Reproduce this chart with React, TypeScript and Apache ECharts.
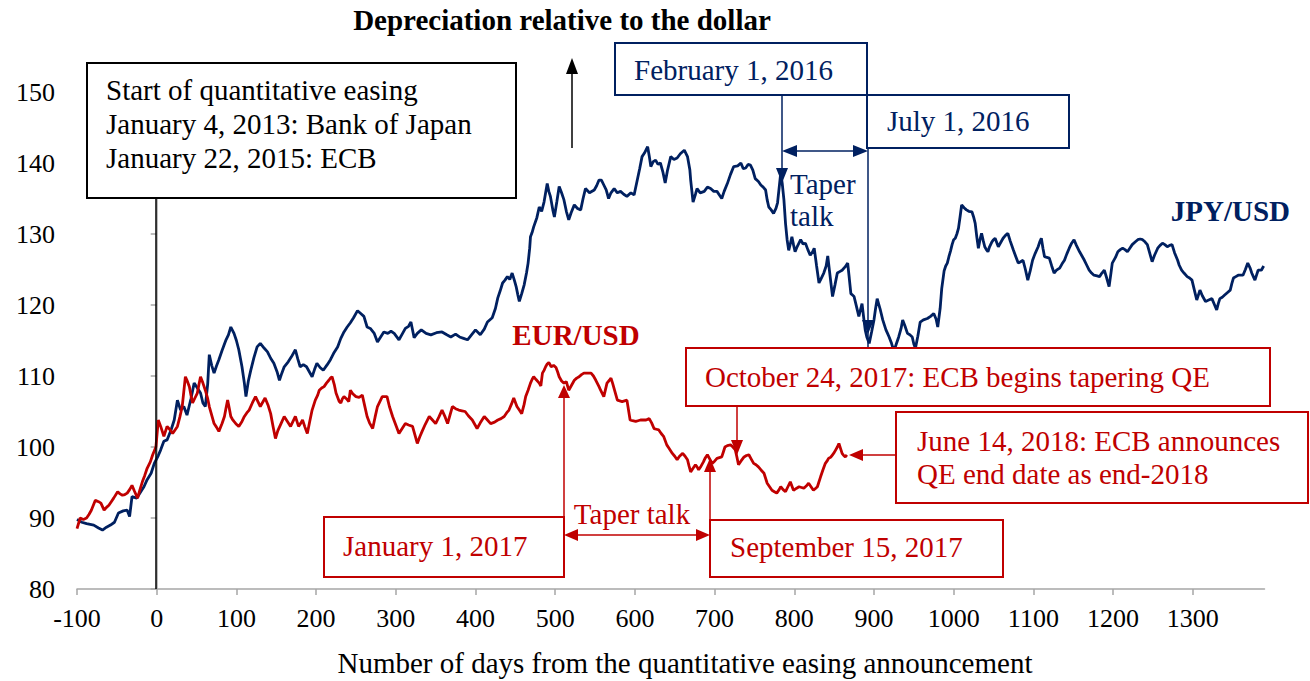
import React, { useEffect, useRef } from "react";
import * as echarts from "echarts";

// [trading days from QE announcement, index value]
const jpyUsd: [number, number][] = [
  [-100,89.8],[-94,89.4],[-88,89.2],[-79,89.0],[-73,88.6],[-68,88.3],[-63,88.7],[-58,89.0],[-53,89.4],[-48,90.7],
  [-42,91.0],[-37,91.1],[-34,90.2],[-31,93.0],[-25,92.8],[-20,93.7],[-16,94.4],[-12,95.4],[-7,96.3],[-3,97.7],
  [2,98.8],[5,99.6],[9,100.8],[13,101.0],[18,102.4],[22,103.8],[26,106.6],[30,105.2],[34,105.7],[38,104.5],
  [43,106.8],[47,109.0],[51,108.3],[55,107.6],[58,106.2],[61,105.7],[64,108.9],[66,113.0],[69,111.5],[72,110.4],
  [75,111.4],[78,112.3],[82,113.6],[87,115.1],[90,115.8],[93,116.9],[97,116.0],[100,115.0],[103,113.7],[107,111.3],
  [110,109.0],[112,107.1],[115,109.3],[118,110.8],[122,112.6],[126,114.1],[130,114.6],[135,113.9],[139,113.4],[143,112.5],
  [147,111.8],[151,110.6],[154,109.4],[157,110.4],[160,111.3],[165,112.0],[169,112.7],[174,113.7],[177,112.4],[180,111.3],
  [184,111.6],[188,111.3],[192,110.5],[195,109.9],[198,110.9],[201,111.8],[205,111.2],[209,110.8],[214,111.6],[218,112.3],
  [222,113.2],[227,114.1],[231,115.3],[235,116.2],[239,116.9],[243,117.5],[247,118.2],[252,119.2],[256,118.8],[260,118.4],
  [264,116.9],[268,116.7],[273,116.0],[277,114.8],[281,115.5],[285,116.2],[290,116.0],[294,116.3],[298,116.0],[304,115.1],
  [308,115.9],[312,116.7],[316,117.0],[319,117.6],[323,115.4],[327,116.0],[332,116.5],[338,116.0],[344,115.8],[351,116.1],
  [358,116.2],[364,115.8],[369,115.5],[375,115.9],[380,115.5],[385,115.3],[390,115.1],[395,115.8],[400,116.5],[406,115.8],
  [411,116.6],[415,117.6],[421,118.2],[425,119.5],[428,121.0],[431,122.0],[434,123.1],[437,123.5],[440,124.0],[443,123.6],
  [446,124.5],[449,123.4],[451,122.6],[453,121.5],[455,120.5],[458,121.6],[461,122.8],[464,124.5],[466,125.9],[468,128.0],
  [469,129.6],[471,130.2],[473,131.0],[477,132.3],[480,133.8],[483,133.2],[486,134.5],[488,135.8],[490,137.1],[492,136.0],
  [494,135.3],[497,133.4],[499,132.4],[502,134.5],[505,136.7],[508,135.8],[511,134.8],[514,133.2],[517,132.0],[520,133.0],
  [524,134.1],[528,133.6],[532,133.4],[535,135.0],[538,136.4],[543,135.8],[549,136.2],[552,136.8],[555,137.6],[558,137.6],
  [561,136.9],[564,136.2],[567,135.0],[570,135.8],[574,136.4],[578,135.8],[582,136.0],[586,135.6],[590,135.3],[595,135.8],
  [599,135.5],[603,137.6],[606,139.2],[609,140.9],[612,141.4],[616,142.3],[618,141.0],[620,139.5],[623,140.2],[626,140.4],
  [629,139.8],[632,140.0],[635,138.8],[638,137.2],[641,139.0],[645,140.9],[649,140.5],[653,140.7],[657,141.3],[662,141.8],
  [666,140.9],[669,139.0],[670,137.6],[673,134.5],[676,135.6],[678,136.4],[682,135.8],[687,136.0],[691,136.6],[695,136.4],
  [699,136.0],[703,136.0],[706,135.5],[709,135.0],[712,136.0],[716,137.1],[720,138.4],[724,139.5],[729,139.6],[733,140.0],
  [736,139.2],[739,139.3],[742,139.8],[745,139.7],[748,139.0],[751,137.8],[755,137.4],[758,136.9],[761,136.6],[764,136.2],
  [766,134.8],[768,133.8],[771,133.4],[774,132.9],[777,133.6],[779,134.4],[781,136.5],[783,138.6],[785,137.0],[787,134.8],
  [789,131.5],[791,129.2],[793,127.7],[795,128.6],[797,129.6],[799,128.5],[801,127.5],[804,128.3],[808,129.2],[811,128.6],
  [814,128.7],[817,127.8],[820,127.0],[823,127.5],[825,128.0],[828,125.5],[831,123.1],[834,123.8],[837,124.5],[840,125.5],
  [842,126.9],[845,124.0],[848,121.2],[851,122.8],[854,124.5],[857,124.7],[860,124.9],[864,125.4],[867,125.9],[869,123.8],
  [871,121.6],[873,121.4],[875,121.2],[878,119.8],[881,118.4],[883,119.3],[885,120.2],[887,118.3],[889,116.5],[891,115.5],
  [894,114.6],[897,116.2],[900,117.9],[902,119.5],[904,120.9],[906,120.1],[908,119.3],[911,117.9],[915,116.5],[917,116.0],
  [919,115.5],[922,114.6],[925,113.5],[928,114.5],[931,115.5],[934,116.7],[936,117.9],[939,117.0],[942,116.0],[945,115.8],
  [948,115.5],[950,114.5],[952,113.9],[955,115.6],[958,117.6],[962,117.9],[967,118.1],[971,118.4],[975,118.8],[978,118.0],
  [980,116.9],[983,119.5],[985,122.3],[988,124.8],[990,125.5],[992,125.9],[994,126.8],[996,127.6],[998,128.5],[1000,129.2],
  [1002,129.4],[1004,130.0],[1006,130.8],[1008,132.4],[1010,134.1],[1013,133.7],[1016,133.4],[1019,133.2],[1023,133.1],[1025,132.4],
  [1027,131.5],[1029,129.6],[1031,128.0],[1033,129.2],[1035,130.1],[1037,129.1],[1039,128.2],[1041,127.8],[1043,127.5],[1045,128.2],
  [1048,128.9],[1050,129.2],[1052,129.4],[1054,128.8],[1056,128.2],[1059,128.8],[1062,129.4],[1065,129.8],[1068,130.1],[1071,129.0],
  [1075,127.7],[1078,126.8],[1081,125.9],[1084,126.1],[1087,126.3],[1090,125.0],[1093,123.5],[1096,124.8],[1099,126.3],[1102,127.2],
  [1106,128.2],[1108,128.9],[1110,129.4],[1112,128.0],[1114,126.8],[1117,126.7],[1120,126.6],[1123,125.5],[1126,124.5],[1129,124.9],
  [1133,125.2],[1136,125.8],[1139,126.3],[1142,127.2],[1145,128.0],[1148,128.7],[1151,129.2],[1154,128.4],[1158,127.5],[1161,126.9],
  [1164,126.3],[1167,125.6],[1170,124.9],[1173,124.5],[1176,124.2],[1180,124.1],[1183,124.0],[1186,124.5],[1189,124.9],[1192,123.8],
  [1195,122.6],[1197,124.2],[1199,125.9],[1203,126.7],[1206,127.5],[1209,127.8],[1212,128.0],[1215,127.8],[1218,127.5],[1221,128.0],
  [1224,128.5],[1228,128.9],[1231,129.2],[1234,129.3],[1237,129.2],[1240,128.9],[1243,128.5],[1246,127.3],[1249,126.1],[1252,127.0],
  [1256,128.0],[1259,128.4],[1262,128.7],[1265,128.5],[1268,128.2],[1271,128.4],[1274,128.5],[1277,127.4],[1281,126.3],[1283,125.6],
  [1286,124.9],[1289,124.5],[1293,124.0],[1296,123.8],[1299,123.5],[1302,122.1],[1305,120.7],[1307,121.4],[1309,122.1],[1312,121.3],
  [1316,120.5],[1320,120.7],[1324,120.9],[1327,120.1],[1330,119.3],[1332,120.2],[1334,120.9],[1337,121.1],[1340,121.4],[1344,121.8],
  [1347,122.1],[1349,123.0],[1351,123.8],[1354,124.0],[1357,124.2],[1360,124.2],[1363,124.2],[1366,125.0],[1369,125.9],[1372,125.2],
  [1374,124.5],[1376,124.0],[1378,123.5],[1380,124.2],[1382,124.9],[1386,124.9],[1389,125.5],
];

const eurUsd: [number, number][] = [
  [-100,88.5],[-96,90.0],[-92,89.8],[-88,90.0],[-85,90.5],[-82,91.1],[-77,92.5],[-73,92.3],[-70,92.1],[-66,91.1],
  [-63,91.5],[-60,91.8],[-57,92.3],[-54,92.8],[-49,93.7],[-46,93.4],[-43,93.2],[-40,93.3],[-37,93.5],[-34,94.0],
  [-31,94.6],[-28,93.8],[-24,92.8],[-21,94.0],[-18,95.1],[-15,96.0],[-12,97.0],[-8,97.9],[-5,98.9],[-1,100.0],
  [2,103.8],[5,102.9],[9,101.5],[13,102.9],[17,102.4],[20,101.9],[23,102.4],[26,102.9],[29,104.2],[32,105.7],
  [34,107.8],[36,109.9],[38,109.4],[41,108.5],[43,107.3],[45,106.2],[48,106.9],[51,107.6],[53,108.8],[55,109.9],
  [58,109.0],[61,108.0],[64,106.8],[66,105.7],[69,104.5],[72,103.3],[75,102.8],[78,102.2],[82,103.3],[85,104.3],
  [87,105.5],[89,106.6],[91,105.5],[93,104.3],[95,103.9],[97,103.6],[100,103.2],[103,102.9],[107,103.6],[110,104.3],
  [113,104.8],[116,105.2],[120,106.2],[124,107.1],[127,106.4],[130,105.7],[133,106.3],[136,106.9],[140,105.8],[143,104.7],
  [146,102.9],[149,101.2],[152,102.3],[156,103.3],[160,104.3],[164,103.6],[168,102.9],[171,103.6],[174,104.3],[176,103.6],
  [178,102.9],[181,103.4],[183,103.8],[186,102.8],[189,101.9],[192,103.6],[195,105.2],[199,106.6],[202,107.3],[204,108.0],
  [207,108.3],[210,108.5],[213,109.0],[216,109.4],[218,109.7],[220,109.9],[223,108.7],[225,107.6],[227,107.0],[229,106.4],
  [231,106.2],[233,106.8],[235,107.1],[238,106.8],[241,106.4],[243,108.0],[246,107.5],[250,107.1],[254,107.0],[258,107.3],
  [261,105.8],[264,104.3],[267,103.4],[271,102.6],[274,104.2],[277,105.7],[280,106.4],[283,107.1],[286,107.1],[289,107.1],
  [292,105.7],[296,104.3],[300,103.1],[304,101.9],[308,102.6],[312,103.3],[316,103.1],[321,102.9],[324,101.7],[327,100.5],
  [330,101.4],[333,102.2],[337,103.2],[342,104.3],[346,103.8],[350,103.3],[354,104.2],[358,105.2],[362,104.2],[365,103.3],
  [368,104.5],[371,105.7],[375,105.4],[379,105.2],[383,105.1],[387,105.0],[391,104.4],[396,103.8],[399,103.2],[402,102.6],
  [406,103.4],[411,104.3],[415,103.8],[419,103.3],[424,103.5],[428,103.8],[432,104.0],[436,104.3],[439,104.8],[442,105.2],
  [445,106.0],[448,106.9],[450,106.3],[452,105.7],[455,105.2],[458,104.7],[461,106.0],[463,107.1],[466,108.0],[469,109.0],
  [471,109.5],[473,109.9],[476,109.5],[480,109.0],[482,108.6],[484,110.4],[486,110.8],[488,111.3],[490,111.7],[492,111.9],
  [495,111.3],[498,111.5],[501,111.2],[503,110.6],[505,109.9],[508,109.3],[511,109.0],[514,109.2],[517,108.0],[520,108.6],
  [524,109.4],[527,109.7],[530,109.9],[533,110.2],[536,110.4],[540,110.4],[545,110.4],[548,110.0],[551,109.4],[555,108.5],
  [557,108.0],[561,107.1],[565,109.0],[568,109.4],[570,109.7],[572,109.0],[575,107.8],[578,106.6],[581,106.5],[584,106.4],
  [587,106.5],[590,106.6],[592,105.2],[594,103.8],[597,103.7],[601,103.6],[604,103.7],[607,103.8],[611,103.8],[614,103.8],
  [618,104.0],[621,103.4],[624,102.6],[627,102.5],[630,102.4],[633,101.9],[636,101.5],[640,100.3],[643,99.8],[647,99.1],
  [650,98.7],[653,98.2],[656,98.7],[660,99.1],[663,98.7],[666,98.2],[668,97.3],[670,96.5],[673,97.0],[676,97.5],
  [678,97.2],[680,96.8],[683,97.3],[686,97.9],[688,98.4],[691,98.9],[694,98.3],[697,97.7],[700,98.0],[703,98.4],
  [706,98.5],[709,98.6],[711,99.3],[713,100.0],[716,100.2],[720,100.3],[723,100.0],[726,99.6],[728,98.6],[730,97.5],
  [733,98.0],[737,98.6],[740,98.8],[743,98.9],[746,98.3],[749,97.7],[752,97.5],[755,97.2],[758,96.8],[762,96.3],
  [764,95.6],[766,94.9],[769,94.4],[772,93.9],[775,93.7],[778,93.5],[781,94.0],[783,94.4],[786,94.0],[789,93.7],
  [792,94.4],[795,95.1],[797,94.5],[799,93.9],[803,94.2],[806,94.4],[809,94.3],[812,94.2],[815,94.5],[818,94.9],
  [821,94.4],[824,93.9],[827,94.2],[829,94.4],[831,95.1],[833,95.8],[836,96.8],[839,97.7],[841,98.0],[843,98.4],
  [846,98.6],[848,98.9],[850,99.2],[852,99.6],[854,100.0],[856,100.5],[858,99.8],[860,99.1],[862,98.8],[864,98.6],
  [866,98.9],
];

const xTickValues = [-100, 0, 100, 200, 300, 400, 500, 600, 700, 800, 900, 1000, 1100, 1200, 1300];

const NAVY = "#002060";
const RED = "#C00000";
const FONT = "'Times New Roman', 'Liberation Serif', serif";

function txt(x: number, y: number, text: string, color: string, size = 29, weight = "normal", align = "left") {
  return {
    type: "text",
    z: 10,
    style: {
      x, y, text, fill: color,
      font: `${weight} ${size}px ${FONT}`,
      textAlign: align, textVerticalAlign: "middle",
    },
  };
}
function box(x1: number, y1: number, x2: number, y2: number, color: string) {
  return {
    type: "rect", z: 9,
    shape: { x: x1, y: y1, width: x2 - x1, height: y2 - y1 },
    style: { fill: "#fff", stroke: color, lineWidth: 2 },
  };
}
function ln(x1: number, y1: number, x2: number, y2: number, color: string, w = 1.5) {
  return { type: "line", z: 8, shape: { x1, y1, x2, y2 }, style: { stroke: color, lineWidth: w } };
}
function tri(pts: number[][], color: string) {
  return { type: "polygon", z: 8, shape: { points: pts }, style: { fill: color } };
}

export default function App() {
  const ref = useRef<HTMLDivElement>(null);
  useEffect(() => {
    if (!ref.current) return;
    const chart = echarts.init(ref.current, null, { renderer: "svg" });
    const graphics: any[] = [
      // title and arrow
      txt(562, 20, "Depreciation relative to the dollar", "#000", 29, "bold", "center"),
      ln(572, 148, 572, 72, "#000", 1.5),
      tri([[566, 74], [578, 74], [572, 58]], "#000"),
      // QE start box
      ln(156, 198, 156, 589, "#000", 1.5),
      box(87, 63, 516, 198, "#000"),
      txt(106, 90, "Start of quantitative easing", "#000"),
      txt(106, 124, "January 4, 2013: Bank of Japan", "#000"),
      txt(106, 158, "January 22, 2015: ECB", "#000"),
      // JPY taper talk
      box(615, 43, 867, 95, NAVY),
      txt(634, 70, "February 1, 2016", NAVY),
      box(867, 95, 1069, 148, NAVY),
      txt(887, 121, "July 1, 2016", NAVY),
      ln(782, 95, 782, 170, NAVY),
      tri([[776, 168], [788, 168], [782, 183]], NAVY),
      ln(868, 148, 868, 347, NAVY),
      tri([[862, 320], [874, 320], [868, 334]], NAVY),
      ln(795, 151, 855, 151, NAVY),
      tri([[782, 151], [797, 145], [797, 157]], NAVY),
      tri([[868, 151], [853, 145], [853, 157]], NAVY),
      txt(790, 184, "Taper", NAVY),
      txt(790, 216, "talk", NAVY),
      txt(1290, 211, "JPY/USD", NAVY, 29, "bold", "right"),
      // EUR annotations
      txt(576, 335, "EUR/USD", RED, 29, "bold", "center"),
      box(686, 348, 1270, 406, RED),
      txt(705, 377, "October 24, 2017: ECB begins tapering QE", RED),
      ln(737, 406, 737, 442, RED),
      tri([[731, 440], [743, 440], [737, 455]], RED),
      box(896, 412, 1308, 503, RED),
      txt(917, 441, "June 14, 2018: ECB announces", RED),
      txt(917, 474, "QE end date as end-2018", RED),
      ln(896, 455, 861, 455, RED),
      tri([[849, 455], [863, 449], [863, 461]], RED),
      ln(564, 517, 564, 396, RED),
      tri([[558, 398], [570, 398], [564, 385]], RED),
      box(324, 517, 564, 577, RED),
      txt(343, 546, "January 1, 2017", RED),
      ln(710, 520, 710, 470, RED),
      tri([[704, 472], [716, 472], [710, 458]], RED),
      box(710, 520, 1003, 577, RED),
      txt(730, 547, "September 15, 2017", RED),
      ln(576, 535, 698, 535, RED),
      tri([[564, 535], [578, 529], [578, 541]], RED),
      tri([[710, 535], [696, 529], [696, 541]], RED),
      txt(632, 514, "Taper talk", RED, 29, "normal", "center"),
      // axis title
      txt(685, 663, "Number of days from the quantitative easing announcement", "#000", 29, "normal", "center"),
    ];
    chart.setOption({
      animation: false,
      backgroundColor: "#fff",
      grid: { left: 77, right: 45.5, top: 92, bottom: 92, containLabel: false },
      xAxis: {
        type: "value",
        min: -100,
        max: 1390,
        interval: 100,
        axisLine: { show: true, onZero: false, lineStyle: { color: "#A6A6A6", width: 1.5 } },
        axisTick: { show: true, inside: false, length: 6, customValues: xTickValues, lineStyle: { color: "#A6A6A6", width: 1.5 } },
        axisLabel: {
          customValues: xTickValues,
          margin: 16,
          color: "#000",
          fontSize: 26,
          fontFamily: FONT,
          formatter: (v: number) => (v % 100 === 0 ? String(v) : ""),
        },
        splitLine: { show: false },
      },
      yAxis: {
        type: "value",
        min: 80,
        max: 150,
        interval: 10,
        axisLine: { show: true, lineStyle: { color: "#A6A6A6", width: 1.5 } },
        axisTick: { show: true, inside: false, length: 6, lineStyle: { color: "#A6A6A6", width: 1.5 } },
        axisLabel: { margin: 22, color: "#000", fontSize: 26, fontFamily: FONT },
        splitLine: { show: false },
      },
      series: [
        {
          name: "JPY/USD", type: "line", data: jpyUsd, showSymbol: false, symbol: "none",
          lineStyle: { color: NAVY, width: 2.8 }, z: 3,
        },
        {
          name: "EUR/USD", type: "line", data: eurUsd, showSymbol: false, symbol: "none",
          lineStyle: { color: RED, width: 2.8 }, z: 4,
        },
      ],
      graphic: graphics,
    });
    return () => chart.dispose();
  }, []);
  return (
    <div
      ref={ref}
      style={{ position: "fixed", left: 0, top: 0, width: 1310, height: 681, background: "#fff" }}
    />
  );
}
